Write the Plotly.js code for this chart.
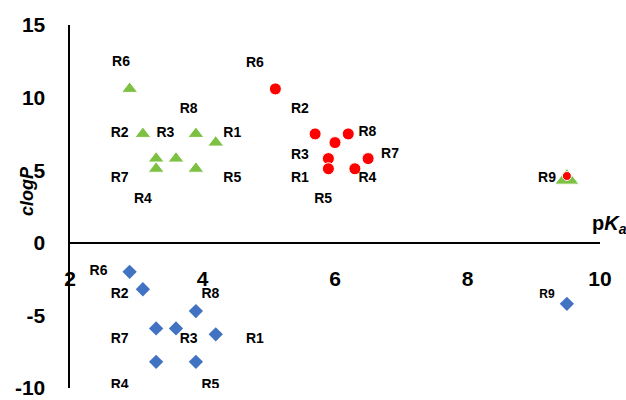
<!DOCTYPE html>
<html>
<head>
<meta charset="utf-8">
<script src="https://cdn.plot.ly/plotly-3.0.1.min.js"></script>
<style>html,body{margin:0;padding:0;background:#fff;}#chart{width:626px;height:400px;}</style>
</head>
<body>
<div id="chart"></div>
<script>
// Green triangles
const greenX = [2.9, 3.1, 3.9, 4.2, 3.3, 3.6, 3.3, 3.9, 9.5];
const greenY = [10.6, 7.5, 7.5, 6.9, 5.8, 5.8, 5.1, 5.1, 4.4];
// Red circles
const redX = [5.1, 5.7, 6.0, 6.2, 5.9, 5.9, 6.3, 6.5, 9.5];
const redY = [10.6, 7.5, 6.9, 7.5, 5.8, 5.1, 5.1, 5.8, 4.6];
// Blue diamonds
const blueX = [2.9, 3.1, 3.9, 3.3, 3.6, 4.2, 3.3, 3.9, 9.5];
const blueY = [-2.0, -3.2, -4.7, -5.9, -5.9, -6.3, -8.2, -8.2, -4.2];

// Labels
const greenLabels = ["R6", "R8", "R2", "R3", "R1", "R7", "R5", "R4"];
const greenLabelX = [2.77, 3.79, 2.75, 3.44, 4.45, 2.75, 4.45, 3.1];
const greenLabelY = [12.4, 9.2, 7.5, 7.5, 7.5, 4.4, 4.4, 2.95];

const redLabels = ["R6", "R2", "R3", "R1", "R8", "R7", "R4", "R5", "R9"];
const redLabelX = [4.79, 5.47, 5.47, 5.47, 6.49, 6.83, 6.49, 5.82, 9.2];
const redLabelY = [12.35, 9.2, 6.0, 4.4, 7.58, 6.05, 4.4, 2.95, 4.4];

const blueLabels = ["R6", "R2", "R8", "R7", "R3", "R1", "R4", "R5", "R9"];
const blueLabelX = [2.43, 2.75, 4.12, 2.75, 3.79, 4.79, 2.75, 4.12, 9.2];
const blueLabelY = [-1.97, -3.53, -3.53, -6.67, -6.67, -6.67, -9.8, -9.8, -3.57];

const xTicks = [2, 4, 6, 8, 10];
const yTicks = [-10, -5, 0, 5, 10, 15];

const FONT = "Liberation Sans, Arial, sans-serif";
const labelFont = {family: FONT, size: 14, color: "#000", weight: "bold"};

// the R9 (last) point: larger triangle, smaller red dot on top of it
const lastIdx = greenX.length - 1;
const greenSizes = greenX.map((_, i) => i === lastIdx ? 21 : 14);
const redSizes = redX.map((_, i) => i === lastIdx ? 9 : 12);
const blueLabelSizes = blueLabels.map(l => l === "R9" ? 12 : 14);

const traces = [
  {x: greenX, y: greenY, mode: "markers", type: "scatter",
   marker: {symbol: "triangle-up", size: greenSizes, color: "#7DC142", opacity: 1}},
  {x: blueX, y: blueY, mode: "markers", type: "scatter",
   marker: {symbol: "diamond", size: 11, color: "#4173C2", opacity: 1}},
  {x: redX, y: redY, mode: "markers", type: "scatter",
   marker: {symbol: "circle", size: redSizes, color: "#FF0000", opacity: 1}},
  {x: greenLabelX, y: greenLabelY, text: greenLabels, mode: "text", type: "scatter", textfont: labelFont},
  {x: redLabelX, y: redLabelY, text: redLabels, mode: "text", type: "scatter", textfont: labelFont},
  {x: blueLabelX, y: blueLabelY, text: blueLabels, mode: "text", type: "scatter",
   textfont: {family: FONT, size: blueLabelSizes, color: "#000", weight: "bold"}}
];

const layout = {
  width: 626, height: 400,
  margin: {l: 70, r: 26, t: 25, b: 12},
  paper_bgcolor: "#fff", plot_bgcolor: "#fff",
  showlegend: false,
  font: {family: FONT, color: "#000"},
  xaxis: {
    range: [2, 10], anchor: "free", position: 0.4,
    showline: true, linecolor: "#000", linewidth: 2.5,
    showgrid: false, zeroline: false,
    tickvals: xTicks, ticktext: xTicks.map(String),
    ticks: "", ticklabelstandoff: 16,
    tickfont: {family: FONT, size: 21, color: "#000", weight: "bold"}
  },
  yaxis: {
    range: [-10, 15],
    showline: true, linecolor: "#000", linewidth: 2.5,
    showgrid: false, zeroline: false,
    tickvals: yTicks, ticktext: yTicks.map(String),
    ticks: "", ticklabelstandoff: 18,
    tickfont: {family: FONT, size: 21, color: "#000", weight: "bold"}
  },
  annotations: [
    {text: "<b><i>clogP</i></b>", xref: "paper", yref: "paper", x: -0.081, y: 0.543,
     xanchor: "center", yanchor: "middle", textangle: -90, showarrow: false,
     font: {family: FONT, size: 18, color: "#000"}},
    {text: "<b>p<i>K</i><sub><i>a</i></sub></b>", xref: "paper", yref: "paper", x: 1.018, y: 0.45,
     xanchor: "center", yanchor: "middle", showarrow: false,
     font: {family: FONT, size: 20, color: "#000"}}
  ]
};

Plotly.newPlot("chart", traces, layout, {displayModeBar: false, staticPlot: true});
</script>
</body>
</html>
